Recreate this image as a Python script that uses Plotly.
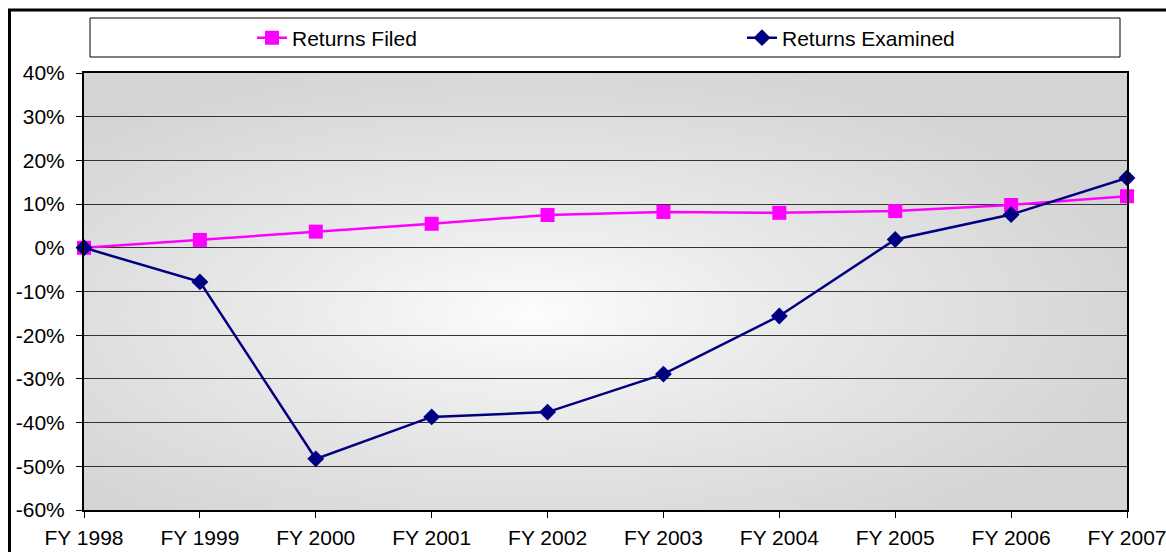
import zlib, struct, base64
import numpy as np
import plotly.graph_objects as go

categories = ["FY 1998", "FY 1999", "FY 2000", "FY 2001", "FY 2002",
              "FY 2003", "FY 2004", "FY 2005", "FY 2006", "FY 2007"]
returns_filed = [0.0, 1.8, 3.7, 5.5, 7.5, 8.2, 8.0, 8.4, 9.8, 11.8]
returns_examined = [0.0, -7.8, -48.3, -38.7, -37.6, -28.9, -15.6, 1.9, 7.6, 16.0]
y_tick_vals = [-60, -50, -40, -30, -20, -10, 0, 10, 20, 30, 40]
y_tick_text = ["-60%", "-50%", "-40%", "-30%", "-20%", "-10%", "0%", "10%", "20%", "30%", "40%"]

FONT = "Liberation Sans, Arial, sans-serif"
FS = 21

PL, PT, PW, PH = 84, 73, 1043, 437   # plot area in page pixels


def px_x(p):
    return (p - PL) / PW


def px_y(p):
    return 1 + (PT - p) / PH


def png_data_uri(arr):
    h, w, _ = arr.shape
    raw = b"".join(b"\x00" + arr[i].tobytes() for i in range(h))

    def chunk(t, d):
        c = struct.pack(">I", len(d)) + t + d
        return c + struct.pack(">I", zlib.crc32(t + d) & 0xFFFFFFFF)

    png = (b"\x89PNG\r\n\x1a\n"
           + chunk(b"IHDR", struct.pack(">IIBBBBB", w, h, 8, 2, 0, 0, 0))
           + chunk(b"IDAT", zlib.compress(raw))
           + chunk(b"IEND", b""))
    return "data:image/png;base64," + base64.b64encode(png).decode()


# radial gradient background (white centre -> light grey edges)
W, H = 520, 220
xx, yy = np.meshgrid(np.linspace(0, 1, W), np.linspace(0, 1, H))
cx, cy = 0.43, 0.55
t = np.sqrt(((xx - cx) / 0.62) ** 2 + ((yy - cy) / 0.62) ** 2)
t = np.clip(t, 0, 1) ** 0.8
edge, centre = 212.0, 255.0
val = (centre * (1 - t) + edge * t).astype(np.uint8)
img = np.stack([val, val, val], axis=-1)
bg_uri = png_data_uri(img)

fig = go.Figure()
fig.add_trace(go.Scatter(
    x=categories, y=returns_filed, name="Returns Filed", mode="lines+markers",
    line=dict(color="#FF00FF", width=2.5),
    marker=dict(symbol="square", size=14, color="#FF00FF"),
    cliponaxis=False, hoverinfo="skip", legend="legend"))
fig.add_trace(go.Scatter(
    x=categories, y=returns_examined, name="Returns Examined", mode="lines+markers",
    line=dict(color="#000080", width=2.5),
    marker=dict(symbol="diamond", size=13, color="#000080"),
    cliponaxis=False, hoverinfo="skip", legend="legend2"))

fig.add_layout_image(dict(source=bg_uri, xref="paper", yref="paper", x=0, y=1,
                          sizex=1, sizey=1, xanchor="left", yanchor="top",
                          sizing="stretch", layer="below"))

# legend box
fig.add_shape(type="rect", xref="paper", yref="paper",
              x0=px_x(90), x1=px_x(1120), y0=px_y(57), y1=px_y(18),
              line=dict(color="black", width=1), fillcolor="white", layer="below")
# outer chart border
fig.add_shape(type="rect", xref="paper", yref="paper",
              x0=px_x(9.5), x1=px_x(1200), y0=px_y(600), y1=px_y(10),
              line=dict(color="black", width=3), fillcolor="rgba(0,0,0,0)")

leg_common = dict(orientation="h", xanchor="left", y=px_y(38), yanchor="middle",
                  bgcolor="rgba(0,0,0,0)", borderwidth=0,
                  font=dict(family=FONT, size=FS, color="black"),
                  itemclick=False, itemdoubleclick=False)

fig.update_layout(
    width=1166, height=552,
    margin=dict(l=PL, r=1166 - (PL + PW), t=PT, b=552 - (PT + PH), autoexpand=False),
    paper_bgcolor="white", plot_bgcolor="rgba(0,0,0,0)",
    font=dict(family=FONT, size=FS, color="black"),
    showlegend=True,
    legend=dict(x=px_x(252), **leg_common),
    legend2=dict(x=px_x(742), **leg_common),
    xaxis=dict(type="category", range=[0, 9], showgrid=False, zeroline=False,
               showline=True, linecolor="black", linewidth=2, mirror=True,
               ticks="outside", ticklen=6, tickcolor="black", tickwidth=1,
               ticklabelstandoff=2, automargin=False,
               tickfont=dict(family=FONT, size=FS, color="black")),
    yaxis=dict(range=[-60, 40], tickvals=y_tick_vals, ticktext=y_tick_text,
               showgrid=True, gridcolor="#333333", gridwidth=1, zeroline=False,
               showline=True, linecolor="black", linewidth=2, mirror=True,
               ticks="outside", ticklen=6, tickcolor="black", tickwidth=1,
               ticklabelstandoff=7, automargin=False,
               tickfont=dict(family=FONT, size=FS, color="black")),
)

fig.write_html("out.html", config={"displayModeBar": False},
               post_script="document.body.style.margin='0';document.body.style.overflow='hidden';")
